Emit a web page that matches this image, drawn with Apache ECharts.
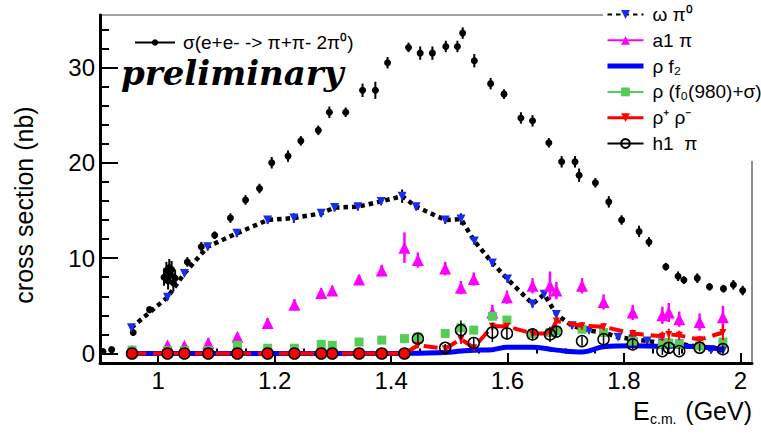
<!DOCTYPE html>
<html>
<head>
<meta charset="utf-8">
<script src="https://cdn.jsdelivr.net/npm/echarts@6/dist/echarts.min.js"></script>
<style>
  html, body { margin: 0; padding: 0; background: #fff; }
  #chart { width: 761px; height: 436px; }
</style>
</head>
<body>
<div id="chart"></div>
<script>
// ---------------- data ----------------
// total cross section sigma(e+e- -> pi+pi- 2pi0)
const sigmaE = [0.905, 0.920, 0.957, 0.985, 1.010, 1.014, 1.017, 1.019, 1.021, 1.023,
  1.026, 1.029, 1.050, 1.074, 1.097, 1.124, 1.150, 1.174, 1.195, 1.223,
  1.245, 1.275, 1.294, 1.322, 1.351, 1.373, 1.394, 1.430, 1.450, 1.471,
  1.494, 1.514, 1.523, 1.543, 1.571, 1.594, 1.623, 1.643, 1.671, 1.693,
  1.716, 1.723, 1.751, 1.774, 1.796, 1.826, 1.843, 1.872, 1.893, 1.903,
  1.926, 1.947, 1.971, 1.988, 2.004];
const sigmaV = [0.2, 0.4, 2.2, 4.6, 8.0, 8.7, 7.6, 9.0, 8.3, 8.8,
  7.4, 7.9, 9.6, 11.2, 12.4, 14.2, 16.1, 17.3, 20.0, 20.7,
  22.3, 23.4, 25.3, 25.3, 27.6, 27.6, 30.5, 32.1, 31.5, 31.5,
  32.2, 32.2, 33.6, 30.7, 28.3, 27.2, 24.7, 24.4, 22.1, 20.1,
  20.1, 18.7, 17.9, 15.9, 14.0, 12.8, 11.7, 9.1, 8.1, 7.7,
  7.9, 7.0, 6.8, 7.2, 6.6];
const sigmaErr = [0.2, 0.2, 0.3, 0.3, 0.9, 0.9, 0.9, 0.9, 0.9, 0.9,
  0.9, 0.9, 0.5, 0.5, 0.4, 0.5, 0.5, 0.5, 0.6, 0.6,
  0.5, 0.5, 0.6, 0.5, 0.7, 0.9, 0.6, 0.5, 0.7, 0.7,
  0.6, 0.6, 0.6, 0.7, 0.6, 0.5, 0.6, 0.6, 0.5, 0.6,
  0.6, 0.7, 0.5, 0.6, 0.5, 0.6, 0.5, 0.4, 0.5, 0.4,
  0.5, 0.4, 0.4, 0.5, 0.5];

// omega pi0 component
const omegaE = [0.954, 1.016, 1.045, 1.085, 1.135, 1.188, 1.233, 1.280, 1.303, 1.343,
  1.383, 1.419, 1.443, 1.493, 1.520, 1.543, 1.574, 1.600, 1.643, 1.663,
  1.684, 1.711, 1.740, 1.765, 1.790, 1.815, 1.840, 1.866, 1.895, 1.930,
  1.950, 1.970];
const omegaV = [2.7, 5.9, 8.4, 11.2, 12.6, 14.0, 14.2, 14.7, 15.3, 15.4,
  15.95, 16.5, 15.4, 14.0, 14.1, 11.8, 9.5, 7.8, 5.2, 6.2,
  4.1, 2.9, 2.4, 2.2, 1.7, 1.5, 1.3, 1.1, 1.0, 0.7,
  0.4, 0.3];
const omegaErr = [0.3, 0.3, 0.3, 0.4, 0.4, 0.4, 0.5, 0.4, 0.4, 0.4,
  0.4, 0.7, 0.4, 0.4, 0.6, 0.4, 0.4, 0.4, 0.4, 0.0,
  0.4, 0.3, 0.3, 0.3, 0.3, 0.3, 0.3, 0.3, 0.3, 0.3,
  0.3, 0.3];

// energies shared by the other components
const E = [0.955, 1.016, 1.045, 1.086, 1.136, 1.188, 1.234, 1.280, 1.299, 1.345,
  1.384, 1.423, 1.446, 1.493, 1.520, 1.542, 1.574, 1.599, 1.643, 1.673,
  1.684, 1.728, 1.765, 1.815, 1.866, 1.877, 1.895, 1.930, 1.970];
const a1pi = [0.3, 0.85, 0.8, 1.1, 1.75, 3.2, 5.1, 6.35, 6.6, 7.75,
  8.7, 11.1, 9.8, 8.9, 6.9, 7.8, 4.3, 5.9, 7.1, 7.1,
  6.6, 7.1, 5.4, 4.3, 4.0, 4.3, 3.6, 3.3, 3.8];
const a1piErr = [0.2, 0.3, 0.3, 0.5, 0.4, 0.5, 0.6, 0.5, 0.5, 0.5,
  0.6, 1.6, 0.8, 0.7, 0.7, 0.7, 0.8, 0.7, 0.8, 1.5,
  0.9, 0.8, 0.8, 0.8, 0.9, 1.0, 0.8, 0.9, 1.2];
const rhoF2 = [0, 0, 0, 0, 0, 0, 0, 0, 0, 0,
  0, 0, 0.03, 0.1, 0.25, 0.35, 0.4, 0.65, 0.65, 0.45,
  0.35, 0.15, 0.7, 0.8, 0.75, 0.75, 0.75, 0.7, 0.4];
const rhoF0 = [0.35, 0.3, 0.3, 0.3, 0.85, 0.55, 0.55, 0.95, 0.85, 1.2,
  1.4, 1.55, 1.7, 2.1, 2.7, 2.45, 3.9, 3.5, 2.1, 2.2,
  2.4, 2.55, 2.2, 1.3, 0.95, 1.1, 0.95, 0.8, 1.2];
const rhoPM = [0, 0, 0, 0, 0, 0, 0, 0, 0, 0,
  0, 0, 0.85, 0.5, 1.5, 0.6, 2.85, 2.85, 2.1, 2.1,
  3.4, 2.9, 2.8, 2.1, 1.8, 2.0, 1.9, 1.45, 2.2];
const rhoPMErr = [0, 0, 0, 0, 0, 0, 0, 0, 0, 0,
  0, 0, 0.3, 0.3, 0.5, 0.3, 0.4, 0.3, 0.3, 0.3,
  0.3, 0.4, 0.4, 0.4, 0.5, 0.6, 0.5, 0.4, 0.8];
const h1pi = [0, 0, 0, 0, 0, 0, 0, 0, 0, 0,
  0, 0, 1.55, 0.6, 2.45, 1.1, 2.2, 2.1, 2.0, 2.0,
  2.3, 1.3, 1.5, 0.95, 0.25, 0.6, 0.25, 0.6, 0.45];
const h1piErr = [0, 0, 0, 0, 0, 0, 0, 0, 0, 0,
  0, 0, 0.5, 0.4, 1.0, 0.5, 1.0, 0.6, 0.6, 0.8,
  0.6, 0.5, 0.6, 0.5, 0.4, 0.6, 0.4, 0.4, 0.4];

// ticks
const xMajorTicks = [1, 1.2, 1.4, 1.6, 1.8, 2];
const xMinorTicks = [0.95, 1.05, 1.1, 1.15, 1.25, 1.3, 1.35, 1.45, 1.5, 1.55,
  1.65, 1.7, 1.75, 1.85, 1.9, 1.95];
const yMajorTicks = [0, 10, 20, 30];
const yMinorTicks = [2, 4, 6, 8, 12, 14, 16, 18, 22, 24, 26, 28, 32, 34];

// names
const N_SIGMA = 'σ(e+e- -> π+π- 2π⁰)';
const N_OMEGA = 'ω π⁰';
const N_A1 = 'a1 π';
const N_F2 = 'ρ f₂';
const N_F0 = 'ρ (f₀(980)+σ)';
const N_RHOPM = 'ρ⁺ ρ⁻';
const N_H1 = 'h1  π';

// ---------------- chart ----------------
const FONT = '"Liberation Sans", Arial, Helvetica, sans-serif';
const chart = echarts.init(document.getElementById('chart'), null, { renderer: 'svg' });

function pairs(xs, ys) { return xs.map((x, i) => [x, ys[i]]); }
function errData(xs, ys, es) { return xs.map((x, i) => [x, ys[i] - es[i], ys[i] + es[i]]); }
function errSeries(name, xs, ys, es, color, width, z) {
  return {
    type: 'custom', name: name, z: z, silent: true,
    data: errData(xs, ys, es),
    encode: { x: 0, y: [1, 2] },
    renderItem: function (params, api) {
      const x = api.value(0), lo = api.value(1), hi = api.value(2);
      if (hi - lo <= 0) return null;
      const p1 = api.coord([x, lo]), p2 = api.coord([x, hi]);
      return { type: 'line', shape: { x1: p1[0], y1: p1[1], x2: p2[0], y2: p2[1] },
               style: { stroke: color, lineWidth: width } };
    }
  };
}

const axisCommonX = { type: 'value', min: 0.9, max: 2.02, position: 'bottom', splitLine: { show: false } };
const axisCommonY = { type: 'value', min: -1, max: 35.5, position: 'left', splitLine: { show: false } };

const option = {
  animation: false,
  backgroundColor: '#fff',
  grid: { left: 100, right: 9, top: 15, bottom: 73, show: true, borderColor: '#444', borderWidth: 1.2 },
  xAxis: [
    Object.assign({}, axisCommonX, {
      axisLine: { show: true, onZero: false, lineStyle: { color: '#000', width: 3 } },
      axisTick: { show: true, inside: true, length: 10, customValues: xMajorTicks, lineStyle: { color: '#000', width: 2 } },
      axisLabel: { customValues: xMajorTicks, fontSize: 24, color: '#000', fontFamily: FONT, margin: 5,
                   formatter: v => String(+(+v).toFixed(1)) }
    }),
    Object.assign({}, axisCommonX, {
      axisLine: { show: false },
      axisTick: { show: true, inside: true, length: 5, customValues: xMinorTicks, lineStyle: { color: '#000', width: 2 } },
      axisLabel: { show: false }
    })
  ],
  yAxis: [
    Object.assign({}, axisCommonY, {
      axisLine: { show: true, onZero: false, lineStyle: { color: '#000', width: 3 } },
      axisTick: { show: true, inside: true, length: 18, customValues: yMajorTicks, lineStyle: { color: '#000', width: 2 } },
      axisLabel: { customValues: yMajorTicks, fontSize: 24, color: '#000', fontFamily: FONT, margin: 5 }
    }),
    Object.assign({}, axisCommonY, {
      axisLine: { show: false },
      axisTick: { show: true, inside: true, length: 9, customValues: yMinorTicks, lineStyle: { color: '#000', width: 2 } },
      axisLabel: { show: false }
    })
  ],
  legend: [
    {
      data: [
        { name: N_OMEGA },
        { name: N_A1, lineStyle: { width: 2, opacity: 1 } },
        { name: N_F2, icon: 'path://M0,0 H36 V5 H0 Z' },
        { name: N_F0, lineStyle: { width: 2, opacity: 1 } },
        { name: N_RHOPM, lineStyle: { type: 'solid', width: 3 } },
        { name: N_H1, lineStyle: { width: 2, opacity: 1 } }
      ],
      orient: 'vertical', left: 603, top: 0, padding: [5, 12, 8, 3],
      itemWidth: 36, itemHeight: 11, itemGap: 6.8,
      backgroundColor: '#fff', selectedMode: false, z: 20,
      textStyle: { fontSize: 19, fontFamily: FONT, color: '#000', padding: [0, 0, 0, 4] }
    },
    {
      data: [{ name: N_SIGMA, lineStyle: { width: 2, opacity: 1 } }],
      left: 134, top: 33, padding: 0, itemWidth: 40, itemHeight: 8,
      selectedMode: false, z: 20,
      textStyle: { fontSize: 19, fontFamily: FONT, color: '#000', padding: [0, 0, 0, 3] }
    }
  ],
  graphic: [
    { type: 'text', left: 121, top: 56, z: 30,
      style: { text: 'preliminary', font: 'italic bold 34px "DejaVu Serif", serif', fill: '#000' } },
    { type: 'text', x: 24, y: 205, rotation: Math.PI / 2, z: 30,
      style: { text: 'cross section (nb)', font: '25px ' + FONT, fill: '#000', align: 'center', verticalAlign: 'middle' } },
    { type: 'text', x: 633, y: 411, z: 30,
      style: { text: 'E', font: '25px ' + FONT, fill: '#000', align: 'left', verticalAlign: 'middle' } },
    { type: 'text', x: 650, y: 419, z: 30,
      style: { text: 'c.m.', font: '14px ' + FONT, fill: '#000', align: 'left', verticalAlign: 'middle' } },
    { type: 'text', x: 752, y: 411, z: 30,
      style: { text: '(GeV)', font: '25px ' + FONT, fill: '#000', align: 'right', verticalAlign: 'middle' } }
  ],
  series: [
    errSeries('sigmaErr', sigmaE, sigmaV, sigmaErr, '#000', 2, 2),
    {
      type: 'line', name: N_SIGMA, z: 2, data: pairs(sigmaE, sigmaV),
      symbol: 'circle', symbolSize: 7, itemStyle: { color: '#000' },
      lineStyle: { color: '#000', width: 0, opacity: 0 }
    },
    errSeries('omegaErr', omegaE, omegaV, omegaErr, '#000', 2, 3),
    {
      type: 'line', name: N_OMEGA, z: 3, data: pairs(omegaE, omegaV),
      symbol: 'triangle', symbolRotate: 180, symbolSize: 9, itemStyle: { color: '#1a2cf0' },
      lineStyle: { color: '#000', width: 4.5, type: [4.5, 4], cap: 'butt' }
    },
    errSeries('a1Err', E, a1pi, a1piErr, '#ff00ff', 2.5, 3),
    {
      type: 'line', name: N_A1, z: 3, data: pairs(E, a1pi),
      symbol: 'triangle', symbolSize: 12, itemStyle: { color: '#ff00ff' },
      lineStyle: { color: '#ff00ff', width: 0, opacity: 0 }
    },
    {
      type: 'line', name: N_F2, z: 4, data: pairs(E, rhoF2), smooth: 0.4,
      symbol: 'none', itemStyle: { color: '#0000ff' },
      lineStyle: { color: '#0000ff', width: 5 }
    },
    {
      type: 'line', name: N_F0, z: 4, data: pairs(E, rhoF0),
      symbol: 'rect', symbolSize: 9, itemStyle: { color: '#55cc55' },
      lineStyle: { color: '#55cc55', width: 0, opacity: 0 }
    },
    errSeries('rhoPMErr', E, rhoPM, rhoPMErr, '#ff0000', 2, 5),
    {
      type: 'line', name: N_RHOPM, z: 5,
      data: E.map((x, i) => i < 12 ? { value: [x, rhoPM[i]], symbol: 'circle', symbolSize: 11, symbolRotate: 0 } : { value: [x, rhoPM[i]] }),
      symbol: 'triangle', symbolRotate: 180, symbolSize: 7, itemStyle: { color: '#ff0000' },
      lineStyle: { color: '#ff0000', width: 4, type: [14, 7] }
    },
    errSeries('h1Err', E, h1pi, h1piErr, '#000', 1.5, 6),
    {
      type: 'line', name: N_H1, z: 6, data: pairs(E, h1pi),
      symbol: 'circle', symbolSize: 11,
      itemStyle: { color: 'rgba(255,255,255,0)', borderColor: '#000', borderWidth: 1.5 },
      lineStyle: { color: '#000', width: 0, opacity: 0 }
    }
  ]
};
chart.setOption(option);
</script>
</body>
</html>
